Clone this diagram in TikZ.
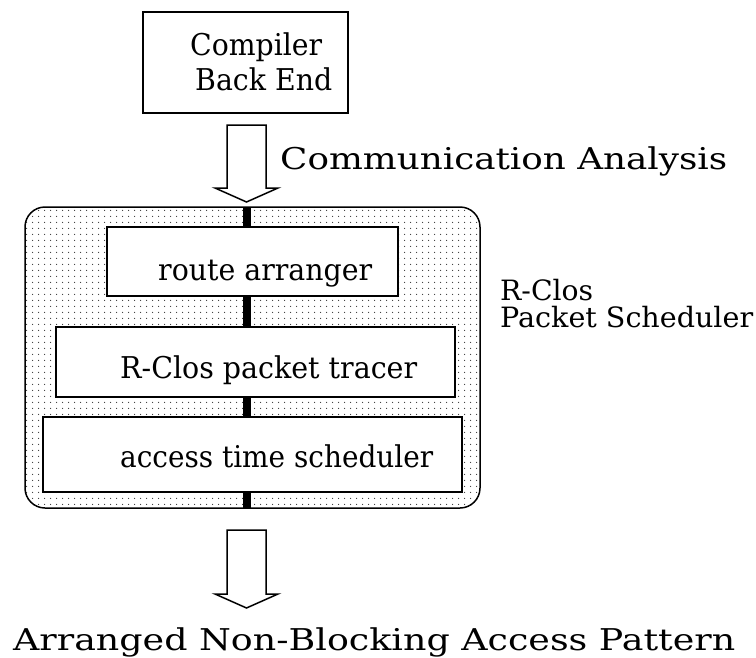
\documentclass[tikz,border=0pt]{standalone}
\usepackage{fontspec}
\setmainfont{DejaVu Serif}
\usetikzlibrary{patterns.meta}
\tikzdeclarepattern{name=finedots, type=colored,
  bottom left={(0pt,0pt)}, top right={(6pt,6pt)}, tile size={(6pt,6pt)},
  code={\fill[black!80] (3pt,3pt) circle (0.75pt);}}
\newcommand{\fitw}[2]{\resizebox{#1}{\height}{#2}}
\tikzset{
  box/.style={draw, line width=1.5pt, fill=white, inner sep=0pt},
  lbl/.style={inner sep=0pt, font=\fontsize{30}{35}\selectfont, anchor=base west},
  hollow/.style={draw, line width=1.5pt, fill=white, line join=miter},
}
\begin{document}
\begin{tikzpicture}[x=1pt,y=-1pt]
\useasboundingbox (0,0) rectangle (756,657);
% compiler back end
\node[box, minimum width=205pt, minimum height=101pt] (cbe) at (245.5,62.5) {};
\node[lbl, anchor=west, align=left] (cbetext) at (190,62) {\fitw{132pt}{Compiler}\\\hspace*{5pt}\fitw{137pt}{Back End}};
% top hollow arrow
\draw[hollow] (227,125) -- (266,125) -- (266,188) -- (278,188) -- (246.5,202) -- (215,188) -- (227,188) -- cycle;
\node[lbl] (ca) at (280,169) {\fitw{447pt}{Communication Analysis}};
% scheduler frame
\node[draw, line width=1.5pt, rounded corners=20pt, pattern=finedots, minimum width=455pt, minimum height=301pt, inner sep=0pt] (frame) at (252.5,357.5) {};
\fill[black] (243,207) rectangle (251,508);
\node[box, minimum width=291pt, minimum height=69pt] (ra) at (252.5,261.5) {};
\node[box, minimum width=399pt, minimum height=70pt] (pt) at (255.5,362) {};
\node[box, minimum width=419pt, minimum height=75pt] (ats) at (252.5,454.5) {};
\node[lbl] (ratext) at (158,280) {\fitw{214pt}{route arranger}};
\node[lbl] (pttext) at (120,378) {\fitw{297pt}{R-Clos packet tracer}};
\node[lbl] (atstext) at (120,467) {\fitw{313pt}{access time scheduler}};
\node[lbl, anchor=north west, align=left, font=\fontsize{28}{27}\selectfont] (rps) at (500,279) {\fitw{93pt}{R-Clos}\\\fitw{253pt}{Packet Scheduler}};
% bottom hollow arrow
\draw[hollow] (227,530) -- (266,530) -- (266,594) -- (278,594) -- (246.5,608) -- (215,594) -- (227,594) -- cycle;
\node[lbl] (out) at (13,650) {\fitw{722pt}{Arranged Non-Blocking Access Pattern}};
\end{tikzpicture}
\end{document}
